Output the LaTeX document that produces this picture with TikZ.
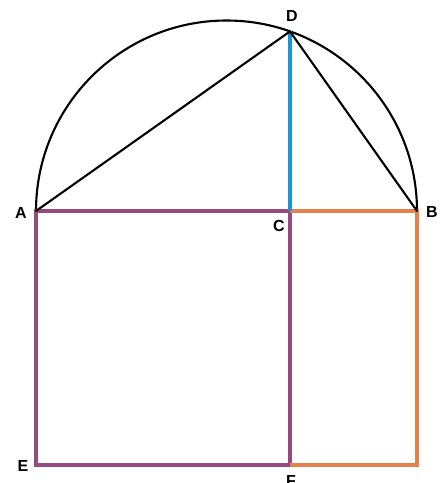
\documentclass[tikz,border=0pt]{standalone}
\usepackage{fontspec}
\setmainfont{Liberation Sans}
\begin{document}
\begin{tikzpicture}[x=1pt,y=-1pt,
  blk/.style={draw=black,line width=2.1pt,line cap=round,line join=round},
  pur/.style={draw={rgb,255:red,151;green,74;blue,126},line width=3.1pt},
  org/.style={draw={rgb,255:red,228;green,128;blue,74},line width=3.1pt},
  blu/.style={draw={rgb,255:red,27;green,149;blue,213},line width=3.4pt},
  lbl/.style={font=\bfseries\fontsize{16}{16}\selectfont,inner sep=0pt}]
\useasboundingbox (0,0) rectangle (446,483);
\coordinate (A) at (36,211);
\coordinate (B) at (417,211);
\coordinate (C) at (290,211);
\coordinate (D) at (290,31.4);
\coordinate (E) at (36,465);
\coordinate (F) at (290,465);
\coordinate (G) at (417,465);
% semicircle
\draw[blk] (B) arc[start angle=0,end angle=-180,radius=190.5];
% square on AC
\draw[pur] (C) -- (F) -- (E) -- (A) -- (C);
% rectangle on CB
\draw[org] (C) -- (B) -- (G) -- (F);
% altitude
\draw[blu] (C) -- (D);
% triangle sides
\draw[blk] (A) -- (D) -- (B);
% labels
\node[lbl] (lA) at (21,213) {A};
\node[lbl] (lB) at (432,212) {B};
\node[lbl] (lC) at (279,226) {C};
\node[lbl] (lD) at (292,16) {D};
\node[lbl] (lE) at (23,466) {E};
\node[lbl] (lF) at (291,481) {F};
\end{tikzpicture}
\end{document}
